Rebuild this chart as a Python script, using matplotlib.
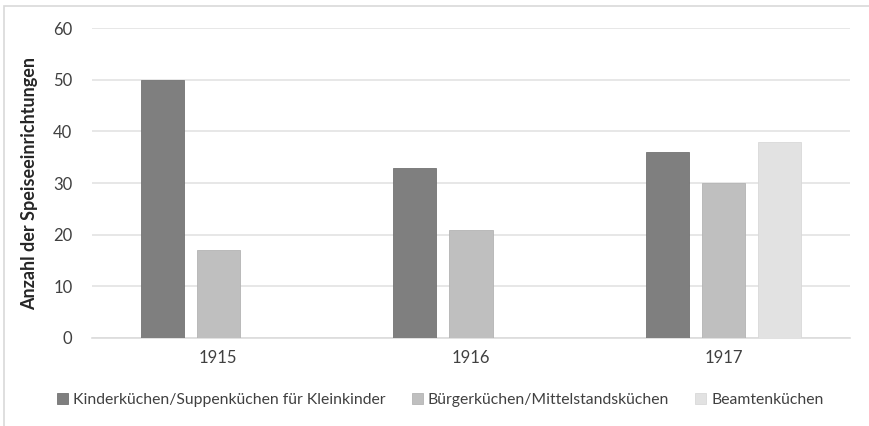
import matplotlib
matplotlib.use("Agg")
import matplotlib.pyplot as plt
import numpy as np
from matplotlib.patches import Rectangle

plt.rcParams['font.family'] = ['Lato', 'DejaVu Sans']

years = ["1915", "1916", "1917"]
series_names = ["Kinderküchen/Suppenküchen für Kleinkinder",
                "Bürgerküchen/Mittelstandsküchen",
                "Beamtenküchen"]
kinder = [50, 33, 36]
buerger = [17, 21, 30]
beamten = [0, 0, 38]
colors = ["#7f7f7f", "#bfbfbf", "#e2e2e2"]
edges = ["#737373", "#b3b3b3", "#d9d9d9"]

fig = plt.figure(figsize=(8.7, 4.26), dpi=100)
ax = fig.add_axes([0.1057, 0.2066, 0.8713, 0.7274])

x = np.arange(len(years))
width = 0.171
step = 0.222
data = [kinder, buerger, beamten]
for i, (vals, name) in enumerate(zip(data, series_names)):
    xs = x + (i - 1) * step
    vals = np.array(vals, dtype=float)
    mask = vals > 0
    ax.bar(xs[mask], vals[mask], width, color=colors[i], edgecolor=edges[i],
           linewidth=0.6, label=name, zorder=3)

ax.set_xlim(-0.5, 2.5)
ax.set_ylim(0, 60)
ax.set_yticks(range(0, 61, 10))
ax.set_xticks(x)
ax.set_xticklabels(years)
ax.yaxis.grid(True, color="#e3e3e3", linewidth=1.2, zorder=0)
for s in ["top", "right", "left"]:
    ax.spines[s].set_visible(False)
ax.spines["bottom"].set_color("#dcdcdc")
ax.spines["bottom"].set_linewidth(1.2)
ax.tick_params(axis="both", length=0, labelsize=12, colors="#404040")
ax.tick_params(axis="y", pad=14)
ax.tick_params(axis="x", pad=9)
ax.set_ylabel("Anzahl der Speiseeinrichtungen", fontsize=13, fontweight="bold",
              color="#262626", labelpad=11)

handles, labels = ax.get_legend_handles_labels()
leg = fig.legend(handles, labels, loc="center", bbox_to_anchor=(0.506, 0.061),
                 ncol=3, frameon=False, fontsize=11.3, handlelength=0.7,
                 handleheight=0.7, handletextpad=0.3, columnspacing=1.7)
for t in leg.get_texts():
    t.set_color("#404040")

fig.patches.append(Rectangle((4 / 870, -0.05), 1.0, 1.05 - 6 / 426,
                             transform=fig.transFigure, fill=False,
                             edgecolor="#d9d9d9", linewidth=1.2))

fig.savefig("out.png", dpi=100)
